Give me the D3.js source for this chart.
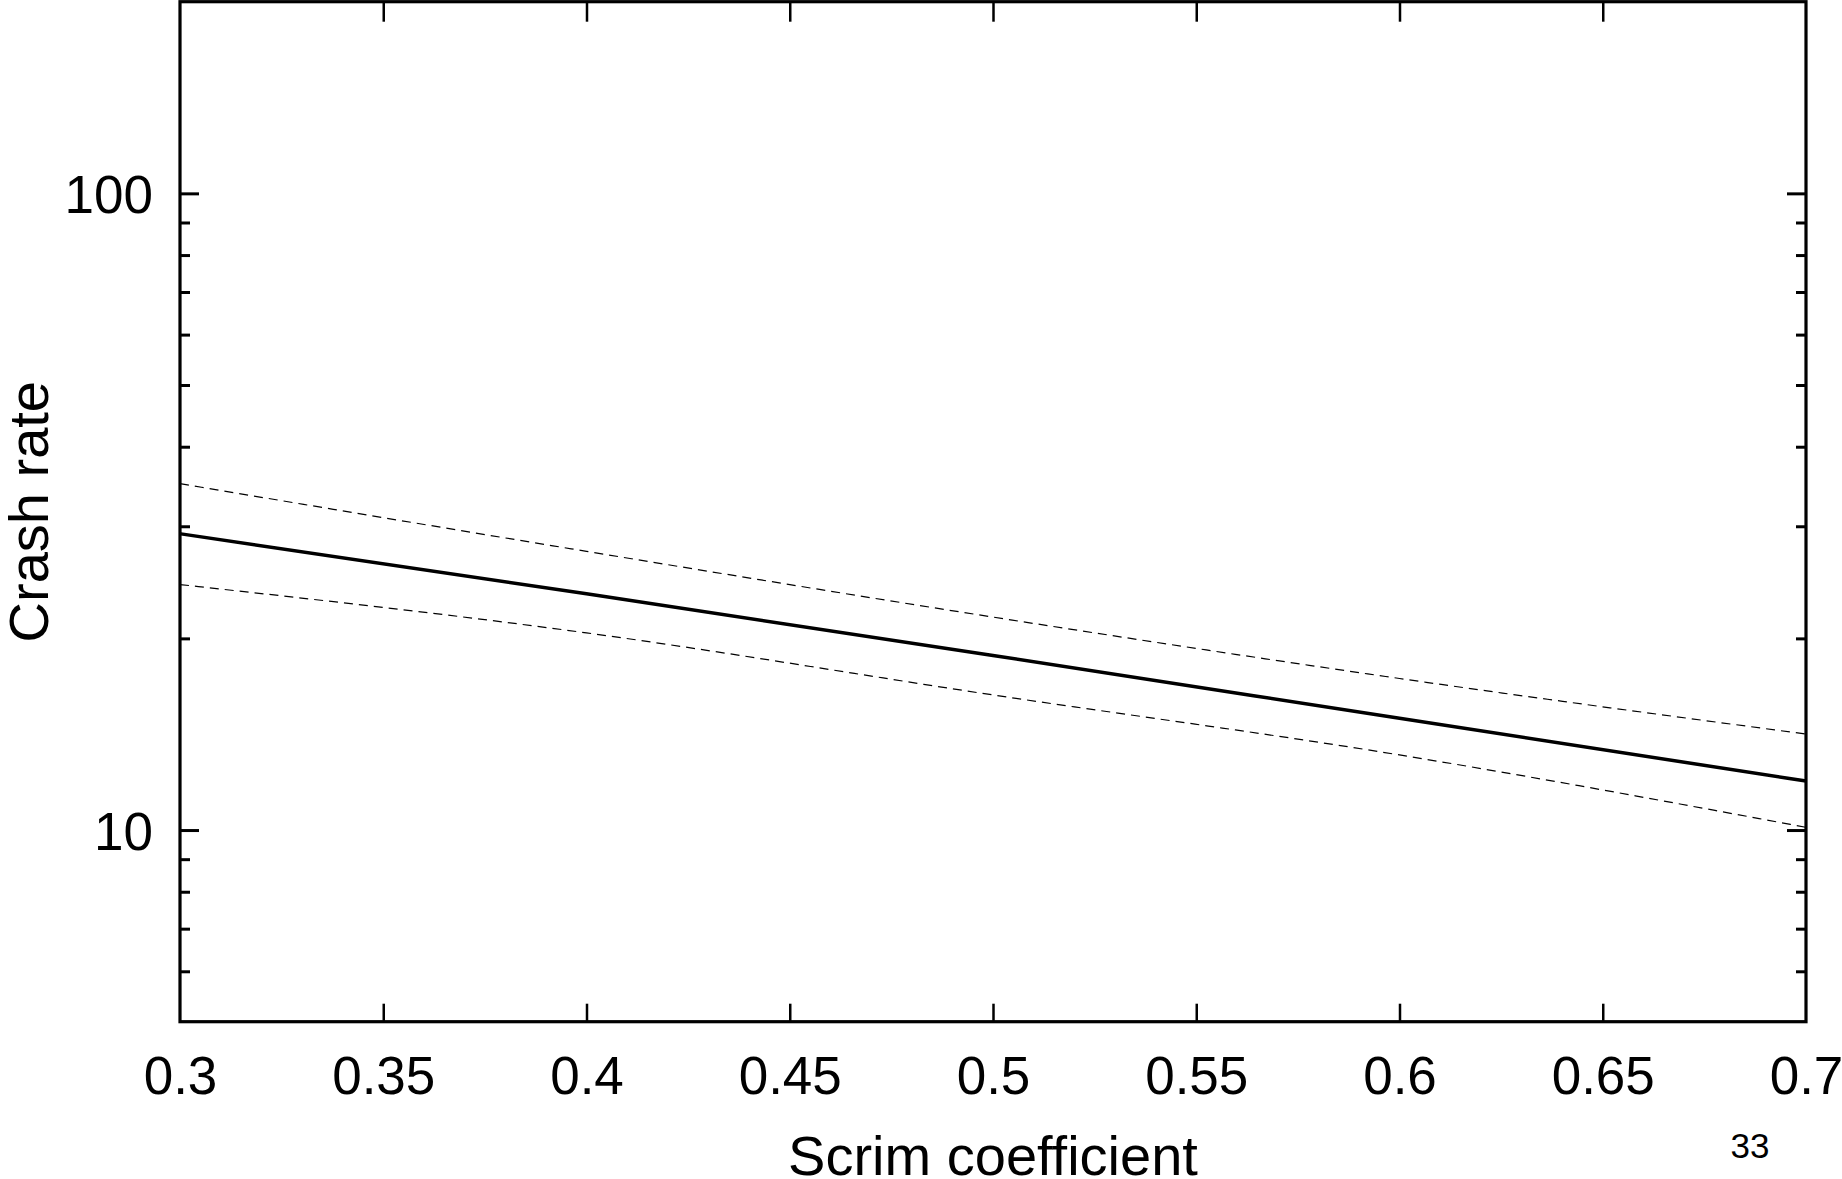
<!DOCTYPE html>
<html>
<head>
<meta charset="utf-8">
<script src="https://cdn.jsdelivr.net/npm/d3@7"></script>
<style>
  html, body { margin: 0; padding: 0; background: #fff; }
  svg { display: block; font-family: "Liberation Sans", Arial, Helvetica, sans-serif; }
</style>
</head>
<body>
<svg id="chart" width="1842" height="1179"></svg>
<script>
// ---- data ----
const scrim = [0.3, 0.4, 0.5, 0.6, 0.7];
const crashFit = [29.2, 23.5, 18.8, 14.98, 11.94];
const crashUpper = [35.0, 27.4, 21.6, 17.3, 14.15];
const crashLower = [24.3, 20.4, 16.3, 13.12, 10.1];

const xTicks = [0.3, 0.35, 0.4, 0.45, 0.5, 0.55, 0.6, 0.65, 0.7];
const yMajorTicks = [10, 100];
const yMinorTicks = [6, 7, 8, 9, 20, 30, 40, 50, 60, 70, 80, 90];
const xDomain = [0.3, 0.7];
const yDomain = [5, 200];
const xTitle = "Scrim coefficient";
const yTitle = "Crash rate";
const pageNumber = "33";

// ---- layout ----
const svg = d3.select("#chart");
const plotL = 180, plotR = 1806, plotT = 1.7, plotB = 1021.7;
const x = d3.scaleLinear().domain(xDomain).range([plotL, plotR]);
const y = d3.scaleLog().domain(yDomain).range([plotB, plotT]);
const FONT = 53;

function styleAxis(g, sw) {
  g.select(".domain").remove();
  g.selectAll(".tick line").attr("stroke", "#000").attr("stroke-width", sw);
  g.selectAll(".tick text").attr("fill", "#000").attr("font-size", FONT)
    .attr("font-family", "Liberation Sans, Arial, sans-serif");
}

// left axis (major with labels, minor without)
svg.append("g").attr("transform", `translate(${plotL},0)`)
  .call(d3.axisLeft(y).tickValues(yMajorTicks).tickSize(-19).tickPadding(27).tickFormat(d3.format("d")))
  .call(g => styleAxis(g, 3))
  .call(g => g.selectAll(".tick text").attr("dy", "0.36em"));
svg.append("g").attr("transform", `translate(${plotL},0)`)
  .call(d3.axisLeft(y).tickValues(yMinorTicks).tickSize(-10).tickFormat(""))
  .call(g => styleAxis(g, 3));

// right axis (mirror ticks)
svg.append("g").attr("transform", `translate(${plotR},0)`)
  .call(d3.axisRight(y).tickValues(yMajorTicks).tickSize(-19).tickFormat(""))
  .call(g => styleAxis(g, 3));
svg.append("g").attr("transform", `translate(${plotR},0)`)
  .call(d3.axisRight(y).tickValues(yMinorTicks).tickSize(-10).tickFormat(""))
  .call(g => styleAxis(g, 3));

// bottom axis
svg.append("g").attr("transform", `translate(0,${plotB})`)
  .call(d3.axisBottom(x).tickValues(xTicks).tickSize(-18).tickPadding(35).tickFormat(d => String(d)))
  .call(g => styleAxis(g, 2.5))
  .call(g => g.selectAll(".tick line").filter(d => d === xDomain[0] || d === xDomain[1]).remove());

// top axis
svg.append("g").attr("transform", `translate(0,${plotT})`)
  .call(d3.axisTop(x).tickValues(xTicks).tickSize(-20).tickFormat(""))
  .call(g => styleAxis(g, 2.5))
  .call(g => g.selectAll(".tick line").filter(d => d === xDomain[0] || d === xDomain[1]).remove());

// frame
svg.append("rect")
  .attr("x", plotL).attr("y", plotT)
  .attr("width", plotR - plotL).attr("height", plotB - plotT)
  .attr("fill", "none").attr("stroke", "#000").attr("stroke-width", 3.2);

// lines
const line = vals => d3.line()
  .x((d, i) => x(scrim[i]))
  .y(d => y(d))
  .curve(d3.curveMonotoneX)(vals);

svg.append("path").attr("d", line(crashUpper))
  .attr("fill", "none").attr("stroke", "#000").attr("stroke-width", 1.2)
  .attr("stroke-dasharray", "9,6");
svg.append("path").attr("d", line(crashLower))
  .attr("fill", "none").attr("stroke", "#000").attr("stroke-width", 1.2)
  .attr("stroke-dasharray", "9,6");
svg.append("path").attr("d", line(crashFit))
  .attr("fill", "none").attr("stroke", "#000").attr("stroke-width", 3.5);

// titles
svg.append("text").attr("x", (plotL + plotR) / 2).attr("y", 1175)
  .attr("text-anchor", "middle").attr("font-size", 56).attr("fill", "#000")
  .text(xTitle);
svg.append("text")
  .attr("transform", `translate(48,${(plotT + plotB) / 2}) rotate(-90)`)
  .attr("text-anchor", "middle").attr("font-size", 56).attr("fill", "#000")
  .text(yTitle);
svg.append("text").attr("x", 1750).attr("y", 1158)
  .attr("text-anchor", "middle").attr("font-size", 35).attr("fill", "#000")
  .text(pageNumber);
</script>
</body>
</html>
